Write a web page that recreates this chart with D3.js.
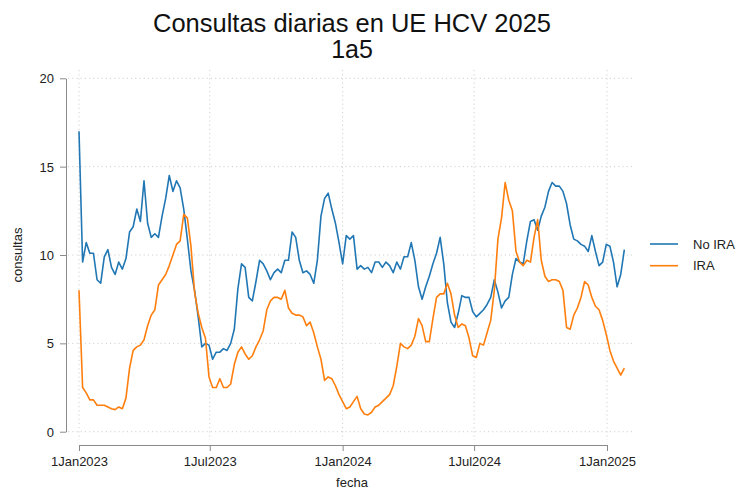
<!DOCTYPE html>
<html>
<head>
<meta charset="utf-8">
<script src="https://cdn.jsdelivr.net/npm/d3@7"></script>
<style>
  body { margin: 0; background: #fff; }
  svg { display: block; font-family: "Liberation Sans", Arial, sans-serif; }
  .grid line { stroke: #d0d0d0; stroke-dasharray: 1.2 3; }
  .axis path, .axis line { stroke: #8a8a8a; }
  .axis text { fill: #222; font-size: 13px; }
</style>
</head>
<body>
<div id="chart"></div>
<script>
// dati: un valore ogni 5 giorni dal 1 gen 2023
const inizio = new Date(2023, 0, 1);
const passoGiorni = 5;

const noIra = [
  17.0, 9.6, 10.7, 10.1, 10.1, 8.6, 8.4, 9.9, 10.3, 9.3,
  8.9, 9.6, 9.2, 9.8, 11.3, 11.6, 12.6, 11.9, 14.2, 11.8,
  11.0, 11.2, 11.0, 12.2, 13.2, 14.5, 13.6, 14.2, 13.8, 12.6,
  10.9, 9.1, 8.0, 6.5, 4.8, 5.0, 4.9, 4.1, 4.5, 4.5,
  4.7, 4.6, 5.0, 5.8, 8.1, 9.5, 9.3, 7.6, 7.4, 8.5,
  9.7, 9.5, 9.1, 8.6, 9.0, 9.2, 9.0, 9.7, 9.7, 11.3,
  11.0, 9.7, 9.0, 9.1, 8.9, 8.4, 9.7, 12.2, 13.2, 13.5,
  12.6, 11.8, 10.7, 9.5, 11.1, 10.9, 11.1, 9.2, 9.4, 9.2,
  9.3, 9.0, 9.6, 9.6, 9.3, 9.6, 9.4, 9.0, 9.6, 9.2,
  9.9, 9.9, 10.7, 9.7, 8.2, 7.5, 8.2, 8.8, 9.5, 10.1,
  11.0, 9.5, 7.3, 6.2, 5.9, 6.7, 7.7, 7.6, 7.6, 6.8,
  6.5, 6.7, 6.9, 7.2, 7.6, 8.6, 7.9, 7.0, 7.4, 7.6,
  8.9, 9.8, 9.6, 9.5, 10.8, 11.9, 12.0, 11.4, 12.2, 12.7,
  13.6, 14.1, 13.9, 13.9, 13.6, 12.9, 11.7, 10.9, 10.8, 10.6,
  10.5, 10.2, 11.1, 10.2, 9.4, 9.6, 10.6, 10.5, 9.6, 8.2,
  8.9, 10.3
];

const ira = [
  8.0, 2.5, 2.2, 1.8, 1.8, 1.5, 1.5, 1.5, 1.4, 1.3,
  1.25, 1.4, 1.3, 1.9, 3.6, 4.6, 4.8, 4.9, 5.2, 6.0,
  6.6, 6.9, 8.3, 8.6, 8.9, 9.4, 10.0, 10.6, 10.8, 12.3,
  12.1, 10.5, 7.9, 6.7, 5.9, 5.3, 3.1, 2.5, 2.5, 3.0,
  2.5, 2.5, 2.7, 3.8, 4.5, 4.8, 4.4, 4.1, 4.3, 4.8,
  5.2, 5.7, 6.9, 7.4, 7.6, 7.6, 7.5, 8.0, 7.0, 6.7,
  6.6, 6.6, 6.5, 6.0, 6.2, 5.6, 4.8, 4.1, 2.9, 3.1,
  3.0, 2.6, 2.1, 1.7, 1.3, 1.4, 1.7, 2.0, 1.3, 1.0,
  0.95, 1.1, 1.4, 1.5, 1.7, 1.9, 2.1, 2.6, 3.7, 5.0,
  4.8, 4.7, 4.9, 5.4, 6.4, 6.0, 5.1, 5.1, 6.4, 7.6,
  7.8, 7.8, 8.4, 7.8, 6.6, 5.9, 6.1, 6.0, 5.3, 4.3,
  4.2, 5.0, 4.9, 5.6, 6.3, 8.0, 10.9, 12.1, 14.1, 13.1,
  12.5, 10.2, 9.6, 9.4, 9.7, 9.6, 11.0, 12.0, 9.7, 8.8,
  8.5, 8.6, 8.6, 8.5, 8.0, 5.9, 5.8, 6.6, 7.0, 7.6,
  8.5, 8.3, 7.6, 7.1, 6.9, 6.3, 5.5, 4.6, 4.0, 3.6,
  3.2, 3.6
];

const serie = [
  { nome: "No IRA", valori: noIra, colore: "#2077b4" },
  { nome: "IRA", valori: ira, colore: "#ff7f0e" }
];

const ticksY = [0, 5, 10, 15, 20];
const ticksX = [new Date(2023, 0, 1), new Date(2023, 6, 1), new Date(2024, 0, 1), new Date(2024, 6, 1), new Date(2025, 0, 1)];

const width = 742, height = 491;
const svg = d3.select("#chart").append("svg")
    .attr("width", width)
    .attr("height", height);

// scale
const x = d3.scaleTime().domain([ticksX[0], ticksX[4]]).range([79, 607]);
const y = d3.scaleLinear().domain([0, 20]).range([431.7, 78.3]);

// griglia
const plotLeft = 68, plotRight = 633, plotTop = 70, plotBottom = 440;
const grid = svg.append("g").attr("class", "grid");
grid.selectAll(".gy").data(ticksY).join("line")
    .attr("x1", plotLeft).attr("x2", plotRight)
    .attr("y1", d => y(d)).attr("y2", d => y(d));
grid.selectAll(".gx").data(ticksX).join("line")
    .attr("x1", d => x(d)).attr("x2", d => x(d))
    .attr("y1", plotTop).attr("y2", plotBottom);

// assi
const mesi = ["Jan", "Feb", "Mar", "Apr", "May", "Jun", "Jul", "Aug", "Sep", "Oct", "Nov", "Dec"];
svg.append("g").attr("class", "axis")
    .attr("transform", "translate(66,0)")
    .call(d3.axisLeft(y).tickValues(ticksY).tickSize(6).tickSizeOuter(0).tickPadding(6))
    .selectAll("text").attr("dy", "0.35em");

svg.append("g").attr("class", "axis")
    .attr("transform", "translate(0,445)")
    .call(d3.axisBottom(x).tickValues(ticksX).tickSize(6).tickSizeOuter(0).tickPadding(6)
        .tickFormat(d => d.getDate() + mesi[d.getMonth()] + d.getFullYear()));

// linee
const linea = d3.line()
    .x((d, i) => x(d3.timeDay.offset(inizio, i * passoGiorni)))
    .y(d => y(d));

svg.selectAll(".serie").data(serie).join("path")
    .attr("class", "serie")
    .attr("fill", "none")
    .attr("stroke", d => d.colore)
    .attr("stroke-width", 1.6)
    .attr("stroke-linejoin", "round")
    .attr("d", d => linea(d.valori));

// titolo ed etichette
svg.append("text").attr("x", 352).attr("y", 32)
    .attr("text-anchor", "middle").attr("font-size", 25).attr("fill", "#111")
    .attr("textLength", 398).attr("lengthAdjust", "spacingAndGlyphs")
    .text("Consultas diarias en UE HCV 2025");
svg.append("text").attr("x", 352).attr("y", 58)
    .attr("text-anchor", "middle").attr("font-size", 25).attr("fill", "#111")
    .text("1a5");

svg.append("text").attr("x", 352).attr("y", 487)
    .attr("text-anchor", "middle").attr("font-size", 13).attr("fill", "#222")
    .text("fecha");
svg.append("text")
    .attr("transform", "translate(22,255) rotate(-90)")
    .attr("text-anchor", "middle").attr("font-size", 13).attr("fill", "#222")
    .text("consultas");

// legenda
const legenda = svg.append("g").attr("transform", "translate(650,244)");
const voci = legenda.selectAll("g").data(serie).join("g")
    .attr("transform", (d, i) => `translate(0,${i * 21.7})`);
voci.append("line").attr("x1", 0).attr("x2", 28)
    .attr("stroke", d => d.colore).attr("stroke-width", 1.6);
voci.append("text").attr("x", 43).attr("dy", "0.35em")
    .attr("font-size", 13).attr("fill", "#222")
    .text(d => d.nome);
</script>
</body>
</html>
